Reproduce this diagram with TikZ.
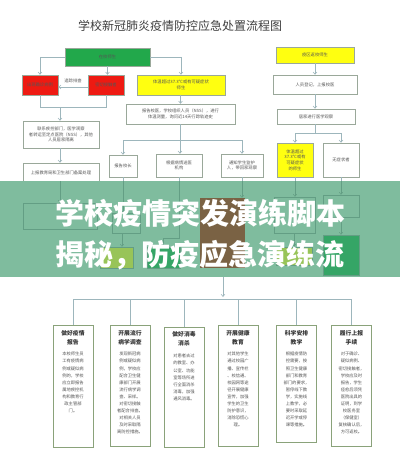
\documentclass[tikz,border=0pt]{standalone}
\usepackage{fontspec}
\setmainfont{Noto Sans CJK SC}
\usetikzlibrary{arrows.meta}
\definecolor{boxc}{HTML}{9AA89A}
\definecolor{bboxc}{HTML}{8AA27A}
\definecolor{linec}{HTML}{9DB6BC}
\definecolor{txt}{HTML}{555555}
\definecolor{redc}{HTML}{EE1A12}
\definecolor{greenc}{HTML}{22A84B}
\definecolor{yelc}{HTML}{FFFF10}
\definecolor{bandc}{HTML}{7FBC9E}
\definecolor{fline}{HTML}{639E84}
\definecolor{ftxt}{HTML}{5A8C76}
\definecolor{brownc}{HTML}{7A6244}
\definecolor{dgreen}{HTML}{35A566}
\definecolor{limec}{HTML}{98C458}
\begin{document}
\begin{tikzpicture}[x=1pt,y=-1pt,
  box/.style={draw=boxc, line width=0.5pt, inner sep=0.5pt, align=center, text=txt, font=\fontsize{4.3}{5.6}\selectfont},
  conn/.style={draw=linec, line width=0.6pt},
  arr/.style={conn, -{Straight Barb[length=2.2pt,width=3.6pt]}},
  hbox/.style={draw=fline, line width=0.5pt, inner sep=0.5pt},
  harr/.style={draw=fline, line width=0.5pt, -{Straight Barb[length=2.2pt,width=3.6pt]}},
  hline/.style={draw=fline, line width=0.5pt},
  bbox/.style={draw=bboxc, line width=0.7pt, minimum width=40pt, inner sep=0},
  hdr/.style={align=center, text=black!80, font=\fontsize{5.8}{9}\selectfont\bfseries},
  body/.style={align=center, text=txt, inner sep=0, font=\fontsize{4.3}{7.1}\selectfont},
  banner/.style={text=white, font=\fontsize{29}{30}\selectfont\bfseries, inner sep=0}
]
\useasboundingbox (0,0) rectangle (400,461);
\fill[white] (0,0) rectangle (400,461);

% title
\node[text=black!75, font=\fontsize{12}{12}\selectfont] (title) at (180,26) {学校新冠肺炎疫情防控应急处置流程图};

% upper nodes
\node[box, fill=greenc, minimum width=85pt, minimum height=18pt] (green) at (107.5,57) {在校师生};
\node[box, fill=redc, minimum width=36pt, minimum height=20pt] (redL) at (40,85) {出现确诊病例};
\node[box, fill=redc, minimum width=36pt, minimum height=20pt] (redM) at (106,85) {密切接触者};
\node[box, fill=yelc, minimum width=88pt, minimum height=20pt] (yel1) at (181,85) {体温超过37.3℃或有可疑症状\\师生};
\node[box, fill=yelc, minimum width=78pt, minimum height=16pt] (yelR) at (315,55) {疫区返校师生};
\node[box, minimum width=84pt, minimum height=19pt] (reg) at (315,84.5) {人员登记，上报校医};
\node[box, minimum width=78pt, minimum height=15pt] (home) at (316,116.5) {居家进行医学观察};
\node[box, fill=yelc, minimum width=36pt, minimum height=34pt] (yel2) at (295,160) {体温超过\\37.3℃或有\\可疑症状\\的师生};
\node[box, minimum width=36pt, minimum height=34pt] (nosym) at (341,160) {无症状者};
\node[box, minimum width=76pt, minimum height=27pt] (left1) at (61,134.5) {联系疾控部门，医学观察\\者转运至定点医院（NSS），其他\\人员居家隔离};
\node[box, minimum width=76pt, minimum height=20pt] (left2) at (61,173) {上报教育局和卫生部门备案处理};
\node[box, minimum width=109pt, minimum height=20pt] (mid) at (180.5,114) {报告校医，学校组织人员（NSS），进行\\体温测量，询问近14天行踪轨迹史};
\node[box, minimum width=28pt, minimum height=22pt] (boss) at (123,166) {报告校长};
\node[box, minimum width=46pt, minimum height=23pt] (hosp) at (179,165.5) {根据病情送医\\机构};
\node[box, minimum width=42pt, minimum height=23pt] (notify) at (242,165.5) {通知学生监护\\人，带回家观察};

% upper connectors
\draw[arr] (green.west) -| (redL.north);
\draw[arr] (green.south) -- (green.south |- redM.north);
\draw[arr] (green.east) -| (yel1.north);
\draw[arr] (redM.west |- 0,87) -- (redL.east |- 0,87) node[midway, above=0.3pt, text=txt, font=\fontsize{4.3}{5}\selectfont] (lbl) {追踪排查};
\coordinate (jn) at (60,107);
\draw[conn] (redL.south) |- (redM.south |- jn) -- (redM.south);
\draw[arr] (jn) -- (jn |- left1.north);
\draw[arr] (yel1.south -| mid.north) -- (mid.north);
\draw[arr] (left1.south -| jn) -- (left2.north -| jn);
\coordinate (mj) at (180,140);
\draw[conn] (mid.south -| mj) -- (mj);
\draw[conn] (boss.north |- mj) -- (notify.north |- mj);
\draw[arr] (boss.north |- mj) -- (boss.north);
\draw[arr] (mj) -- (mj |- hosp.north);
\draw[arr] (notify.north |- mj) -- (notify.north);
\draw[arr] (yelR.south) -- (reg.north);
\draw[arr] (reg.south) -- (reg.south |- home.north);
\coordinate (rj) at (315,133);
\draw[conn] (reg.south |- home.south) -- (rj);
\draw[conn] (yel2.north |- rj) -- (nosym.north |- rj);
\draw[arr] (yel2.north |- rj) -- (yel2.north);
\draw[arr] (nosym.north |- rj) -- (nosym.north);
\draw[conn] (left2.south -| jn) -- (60,190);
\draw[conn] (boss.south) -- (123,190);
\draw[conn] (hosp.south) -- (179,190);
\draw[conn] (notify.south) -- (242,190);
\draw[conn] (yel2.south) -- (295,190);
\draw[conn] (nosym.south) -- (341,190);

% band
\fill[bandc] (0,181) rectangle (400,277);

% faint items under the banner
\node[hbox, minimum width=74pt, minimum height=26pt] (h1) at (60,216) {};
\node[hbox, minimum width=28pt, minimum height=20pt] (h2) at (126,223) {};
\node[hbox, fill=limec, minimum width=33pt, minimum height=21pt] (lime1) at (116.5,257.5) {};
\node[hbox, fill=dgreen, minimum width=33pt, minimum height=21pt] (g1) at (163.5,257.5) {};
\node[draw=none, fill=brownc, minimum width=45pt, minimum height=70pt, inner sep=0] (brown) at (222.5,233) {};
\node[hbox, minimum width=41pt, minimum height=36pt] (h3) at (294.5,215) {};
\node[hbox, minimum width=36pt, minimum height=22pt] (h4) at (341,206) {};
\node[hbox, fill=dgreen, minimum width=36pt, minimum height=40pt] (g2) at (341,255) {};
\node[hbox, fill=limec, minimum width=36pt, minimum height=18pt] (lime2) at (294,256) {};
\draw[harr] (60,181) -- (h1.north);
\draw[harr] (123,181) -- (h2.north -| 123,0);
\draw[harr] (h2.south -| 122,0) -- (lime1.north -| 122,0);
\draw[hline] (179,181) -- (179,238) -| (g1.north);
\draw[harr] (242,181) -- (brown.north -| 242,0);
\draw[harr] (295,181) -- (h3.north -| 295,0);
\draw[harr] (341,181) -- (h4.north);
\draw[harr] (h4.south) -- (g2.north);
\draw[harr] (h3.south -| 294,0) -- (lime2.north);

% banner text
\node[banner] (bt1) at (201,213) {学校疫情突发演练脚本};
\node[banner] (bt2) at (200,255) {揭秘，防疫应急演练流};

% lower part
\coordinate (bus) at (223,299);
\draw[arr] (223,277) -- (223,297);

\node[bbox, minimum height=122pt] (b1) at (73,386) {};
\node[bbox, minimum height=121pt] (b2) at (130,385.5) {};
\node[bbox, minimum height=120pt] (b3) at (184,387) {};
\node[bbox, minimum height=121pt] (b4) at (238,385.5) {};
\node[bbox, minimum height=117pt] (b5) at (296.5,383.5) {};
\node[bbox, minimum height=121pt] (b6) at (351.5,385.5) {};

\draw[conn] (b1.north |- bus) -- (b6.north |- bus);
\foreach \b in {b1,b2,b3,b4,b5,b6} {\draw[conn] (\b.north |- bus) -- (\b.north);}

\node[hdr] (b1h) at (73,337.5) {做好疫情\\报告};
\node[hdr] (b2h) at (130,337.5) {开展流行\\病学调查};
\node[hdr] (b3h) at (184,339) {做好消毒\\消杀};
\node[hdr] (b4h) at (238,337.5) {开展健康\\教育};
\node[hdr] (b5h) at (296.5,337.5) {科学安排\\教学};
\node[hdr] (b6h) at (351.5,337.5) {履行上报\\手续};

\node[body, anchor=north] (b1t) at (73,352) {本校师生员\\工有疫情病\\例或疑似病\\例的，学校\\应立即报告\\属地疾控机\\构和教育行\\政主管部\\门。};
\node[body, anchor=north] (b2t) at (130,352) {发现新冠病\\例或疑似病\\例，学校应\\配合卫生健\\康部门开展\\流行病学调\\查、采样。\\对密切接触\\者配合排查。\\对相关人员\\及时采取隔\\离防控措施。};
\node[body, anchor=north] (b3t) at (184,354) {对患者去过\\的教室、办\\公室、功能\\室等场所进\\行全面消杀\\消毒，加强\\通风消毒。};
\node[body, anchor=north] (b4t) at (238,352) {对其他学生\\通过校园广\\播、宣传栏\\、校信通、\\校园网等途\\径开展健康\\宣传，加强\\学生的卫生\\防护意识，\\消除恐慌心\\理。};
\node[body, anchor=north] (b5t) at (296.5,352) {根据疫情防\\控需要，按\\照卫生健康\\部门和教育\\部门的要求，\\暂停线下教\\学，实施线\\上教学，必\\要时采取延\\迟开学或停\\课等措施。};
\node[body, anchor=north] (b6t) at (351.5,352) {对于确诊、\\疑似病例、\\密切接触者，\\学校应及时\\报告，学生\\痊愈后须凭\\医院出具的\\证明，到学\\校医务室\\（保健室）\\复核确认后，\\方可返校。};
\end{tikzpicture}
\end{document}
